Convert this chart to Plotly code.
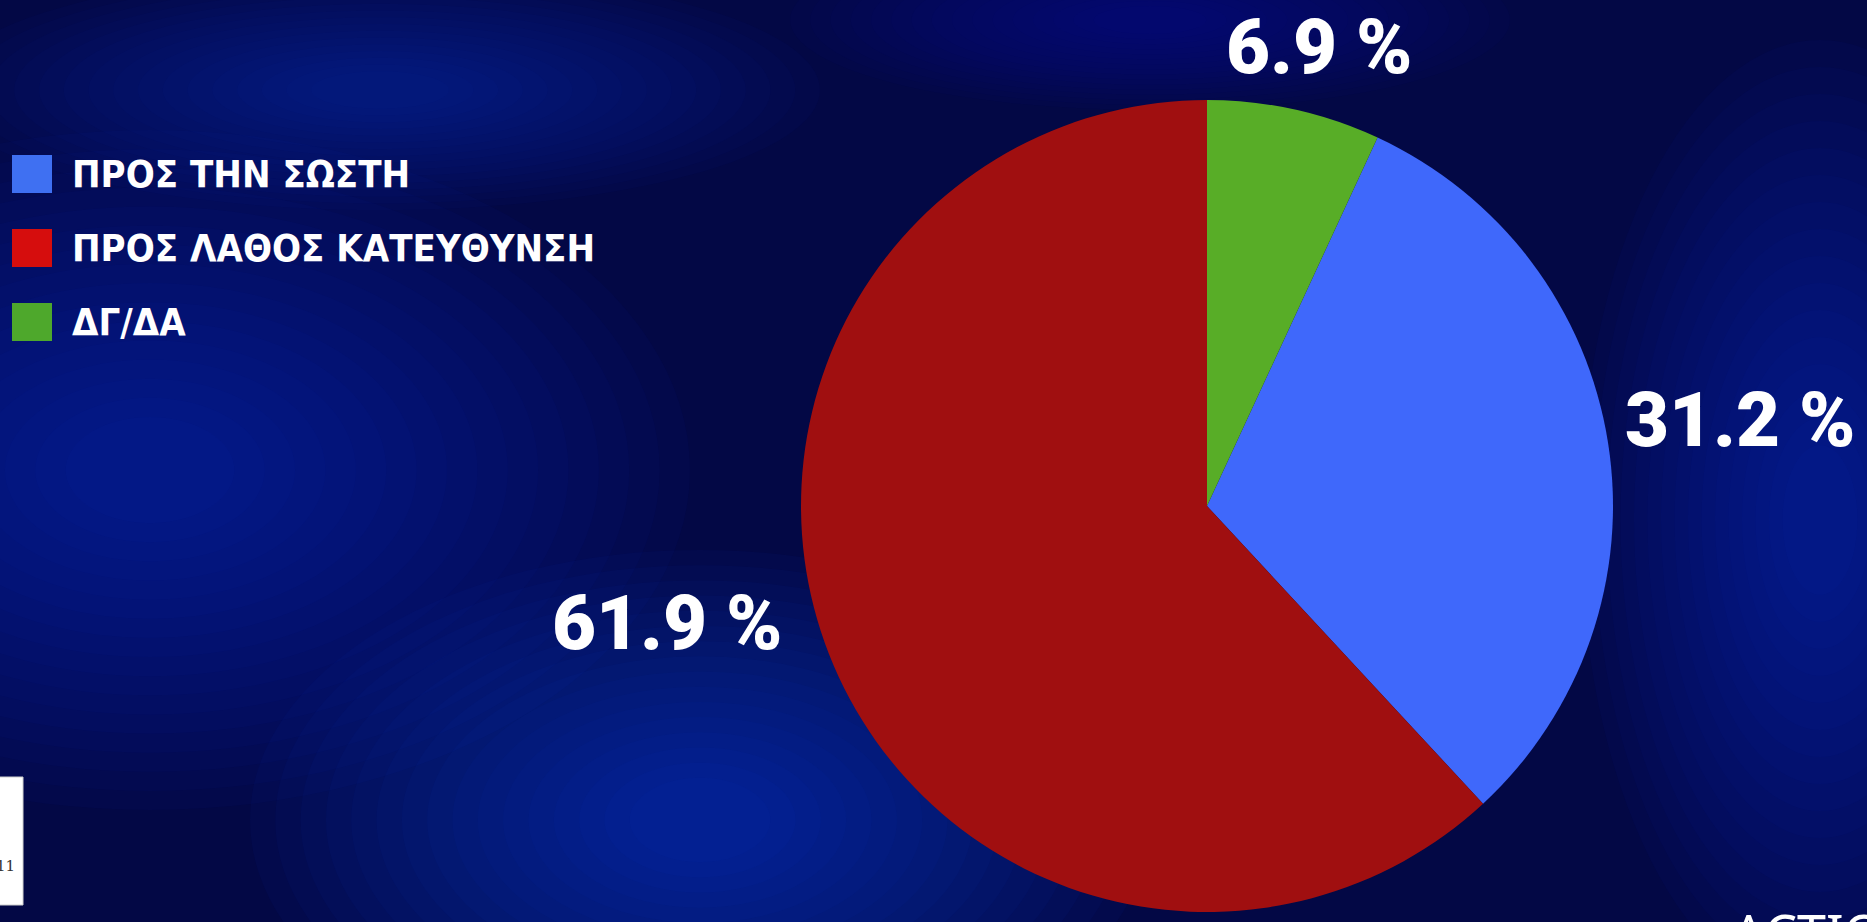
import plotly.graph_objects as go

# slices, in clockwise order starting from the blue one
labels = ["ΠΡΟΣ ΤΗΝ ΣΩΣΤΗ", "ΠΡΟΣ ΛΑΘΟΣ ΚΑΤΕΥΘΥΝΣΗ", "ΔΓ/ΔΑ"]
values = [31.2, 61.9, 6.9]
pie_colors = ["#3f68fb", "#a00f10", "#58ad27"]
legend_colors = ["#3f70f2", "#d60d0d", "#4ea82c"]
pct_text = ["31.2 %", "61.9 %", "6.9 %"]

W, H = 1867, 922

fig = go.Figure()

# pie, centred at about (1207, 506) px with r ~ 406 px
cx, cy, r = 1207, 506, 406
fig.add_trace(go.Pie(
    labels=labels,
    values=values,
    sort=False,
    direction="clockwise",
    rotation=values[2] / 100 * 360,
    marker=dict(colors=pie_colors, line=dict(width=0)),
    textinfo="none",
    hoverinfo="label+percent",
    showlegend=False,
    domain=dict(x=[(cx - r) / W, (cx + r) / W],
                y=[1 - (cy + r) / H, 1 - (cy - r) / H]),
))

# soft blue glow in the background (stacked faint ellipses)
glows = [
    (150, 470, 540, 340, "#1834d0"),
    (700, 820, 450, 270, "#1c3ee6"),
    (1820, 520, 240, 480, "#1430c8"),
    (380, 90, 440, 120, "#1228b0"),
    (1150, 20, 360, 90, "#0e1e9a"),
]
shapes = []
steps = 16
for gx, gy, rx, ry, c in glows:
    for k in range(steps):
        s = 1 - k * 0.9 / steps
        shapes.append(dict(type="circle", xref="paper", yref="paper",
                           x0=(gx - rx * s) / W, x1=(gx + rx * s) / W,
                           y0=1 - (gy + ry * s) / H, y1=1 - (gy - ry * s) / H,
                           fillcolor=c, opacity=0.045, line=dict(width=0), layer="below"))

annotations = []
# hand-made legend with the large squares
for i, (lab, col) in enumerate(zip(labels, legend_colors)):
    yc = 174 + i * 74
    shapes.append(dict(type="rect", xref="paper", yref="paper",
                       x0=12 / W, x1=52 / W, y0=1 - (yc + 19) / H, y1=1 - (yc - 19) / H,
                       fillcolor=col, line=dict(width=0)))
    annotations.append(dict(x=70 / W, y=1 - yc / H, xref="paper", yref="paper",
                            xanchor="left", yanchor="middle", showarrow=False,
                            text="<b>" + lab + "</b>",
                            font=dict(family="DejaVu Sans Condensed, Liberation Sans Narrow, sans-serif",
                                      size=38, color="white")))

# percentage labels
pct_pos = [(1740, 420), (667, 623), (1319, 47)]
for t, (px, py) in zip(pct_text, pct_pos):
    annotations.append(dict(x=px / W, y=1 - py / H, xref="paper", yref="paper",
                            xanchor="center", yanchor="middle", showarrow=False,
                            text=t,
                            font=dict(family="Roboto Black, Roboto, sans-serif", size=76,
                                      color="white", weight=900)))

# broadcast bits: white logo box at bottom left, channel name at bottom right
shapes.append(dict(type="rect", xref="paper", yref="paper",
                   x0=-10 / W, x1=23 / W, y0=1 - 905 / H, y1=1 - 777 / H,
                   fillcolor="white", line=dict(color="#cfcfcf", width=1)))
annotations.append(dict(x=17 / W, y=1 - 866 / H, xref="paper", yref="paper",
                        xanchor="right", yanchor="middle", showarrow=False,
                        text="11", font=dict(family="DejaVu Serif", size=15, color="#333")))
annotations.append(dict(x=1730 / W, y=1 - 895 / H, xref="paper", yref="paper",
                        xanchor="left", yanchor="top", showarrow=False,
                        text="ACTION", font=dict(family="Noto Sans", size=52, color="white")))

fig.update_layout(
    width=W, height=H,
    margin=dict(l=0, r=0, t=0, b=0),
    paper_bgcolor="#030845",
    plot_bgcolor="#030845",
    shapes=shapes,
    annotations=annotations,
)

fig.write_html("out.html", config={"displayModeBar": False},
               post_script="document.body.style.margin='0';document.body.style.overflow='hidden';")
